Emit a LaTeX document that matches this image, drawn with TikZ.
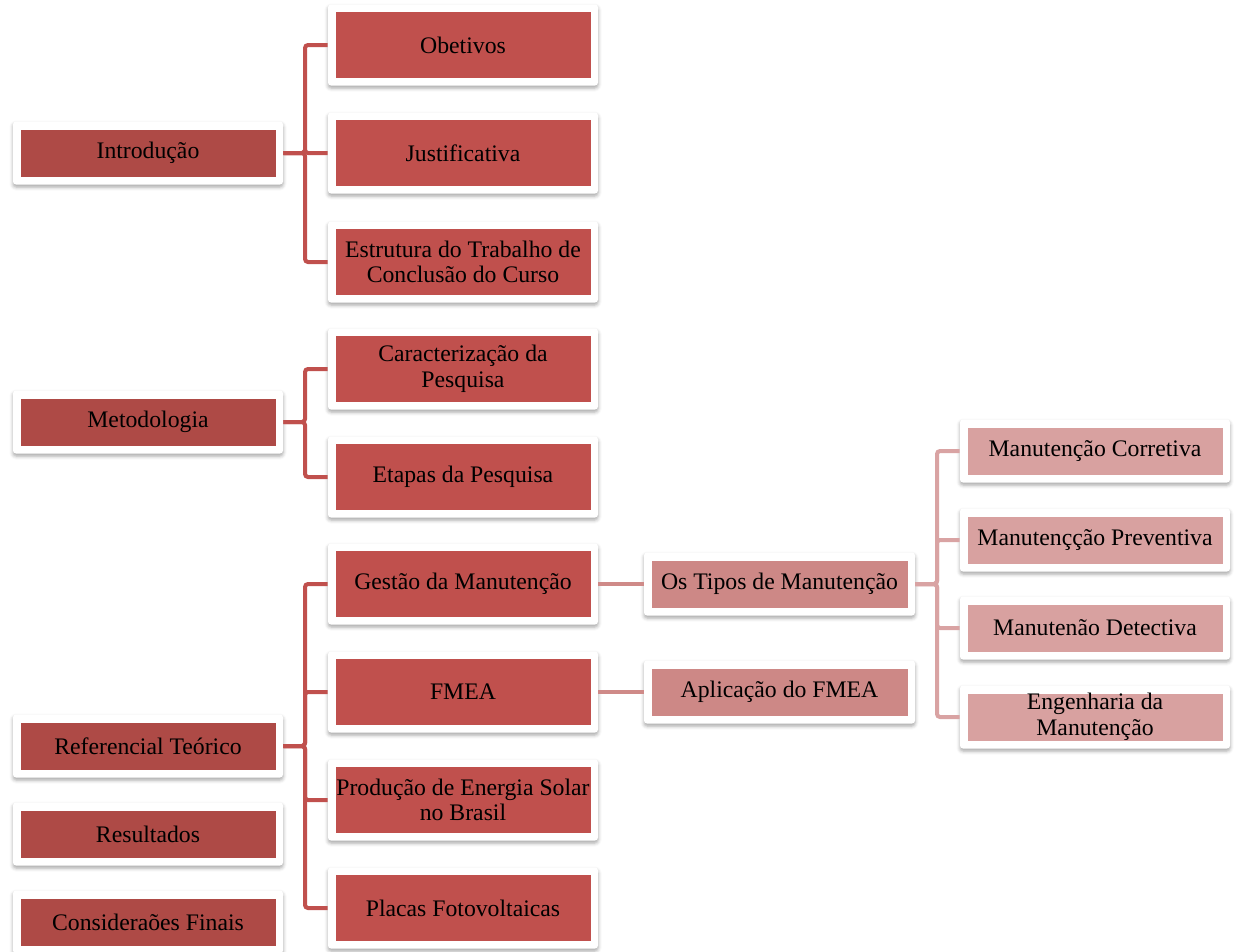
\documentclass[tikz,border=0pt]{standalone}
\usepackage{fontspec}
\setmainfont{Liberation Serif}
\usetikzlibrary{shadows.blur}
\definecolor{corEsq}{HTML}{AE4A46}
\definecolor{corMeio}{HTML}{C0504D}
\definecolor{corTipo}{HTML}{CD8886}
\definecolor{corDir}{HTML}{D8A1A0}
\definecolor{linhaMeio}{HTML}{CF8A88}
\definecolor{linhaDir}{HTML}{D9A3A3}
\tikzstyle{caixa}=[fill=white, rounded corners=0.06cm, inner sep=0pt, align=center,
  font=\fontsize{13.5}{14.5}\selectfont,
  blur shadow={shadow xshift=0cm, shadow yshift=-0.05cm, shadow blur radius=0.07cm, shadow opacity=35}]
\tikzstyle{esq}=[caixa, minimum width=5.4cm, minimum height=1.26cm,
  path picture={\fill[corEsq, sharp corners] ([shift={(0.15,0.16)}]path picture bounding box.south west) rectangle ([shift={(-0.15,-0.16)}]path picture bounding box.north east);}]
\tikzstyle{meio}=[caixa, minimum width=5.4cm, minimum height=1.62cm,
  path picture={\fill[corMeio, sharp corners] ([shift={(0.15,0.15)}]path picture bounding box.south west) rectangle ([shift={(-0.15,-0.15)}]path picture bounding box.north east);}]
\tikzstyle{tipo}=[caixa, minimum width=5.42cm, minimum height=1.26cm,
  path picture={\fill[corTipo, sharp corners] ([shift={(0.15,0.16)}]path picture bounding box.south west) rectangle ([shift={(-0.15,-0.16)}]path picture bounding box.north east);}]
\tikzstyle{dir}=[caixa, minimum width=5.4cm, minimum height=1.26cm,
  path picture={\fill[corDir, sharp corners] ([shift={(0.15,0.16)}]path picture bounding box.south west) rectangle ([shift={(-0.15,-0.16)}]path picture bounding box.north east);}]
\tikzstyle{ramo}=[line width=0.08cm, rounded corners=0.06cm, draw=corMeio]

\begin{document}
\begin{tikzpicture}
    \useasboundingbox (0,0) rectangle (24.74,-19.02);
    % coluna da esquerda
    \node [esq] (intro) at (2.96,-3.06) {Introdução};
    \node [esq] (metod) at (2.96,-8.44) {Metodologia};
    \node [esq] (refer) at (2.96,-14.92) {Referencial Teórico};
    \node [esq] (result) at (2.96,-16.68) {Resultados};
    \node [esq] (consid) at (2.96,-18.44) {Consideraões Finais};
    % coluna do meio
    \node [meio] (obet) at (9.26,-0.9) {Obetivos};
    \node [meio] (justif) at (9.26,-3.06) {Justificativa};
    \node [meio] (estrut) at (9.26,-5.24) {Estrutura do Trabalho de\\Conclusão do Curso};
    \node [meio] (caract) at (9.26,-7.38) {Caracterização da\\Pesquisa};
    \node [meio] (etapas) at (9.26,-9.54) {Etapas da Pesquisa};
    \node [meio] (gestao) at (9.26,-11.68) {Gestão da Manutenção};
    \node [meio] (fmea) at (9.26,-13.84) {FMEA};
    \node [meio] (energia) at (9.26,-16.0) {Produção de Energia Solar\\no Brasil};
    \node [meio] (placas) at (9.26,-18.16) {Placas Fotovoltaicas};
    % terceira coluna
    \node [tipo] (tipos) at (15.59,-11.68) {Os Tipos de Manutenção};
    \node [tipo] (aplic) at (15.59,-13.84) {Aplicação do FMEA};
    % coluna da direita
    \node [dir] (corret) at (21.9,-9.02) {Manutenção Corretiva};
    \node [dir] (prevent) at (21.9,-10.8) {Manutençção Preventiva};
    \node [dir] (detect) at (21.9,-12.56) {Manutenão Detectiva};
    \node [dir] (engen) at (21.9,-14.34) {Engenharia da\\Manutenção};
    % ligacoes
    \coordinate (tronco) at (6.1,0);
    \coordinate (tronco2) at (18.74,0);
    \foreach \filho in {obet, justif, estrut}
        \draw [ramo] (intro.east) -- (intro.east -| tronco) |- (\filho.west);
    \foreach \filho in {caract, etapas}
        \draw [ramo] (metod.east) -- (metod.east -| tronco) |- (\filho.west);
    \foreach \filho in {gestao, fmea, energia, placas}
        \draw [ramo] (refer.east) -- (refer.east -| tronco) |- (\filho.west);
    \draw [ramo, draw=linhaMeio] (gestao.east) -- (tipos.west);
    \draw [ramo, draw=linhaMeio] (fmea.east) -- (aplic.west);
    \foreach \filho in {corret, prevent, detect, engen}
        \draw [ramo, draw=linhaDir] (tipos.east) -- (tipos.east -| tronco2) |- (\filho.west);
\end{tikzpicture}
\end{document}
